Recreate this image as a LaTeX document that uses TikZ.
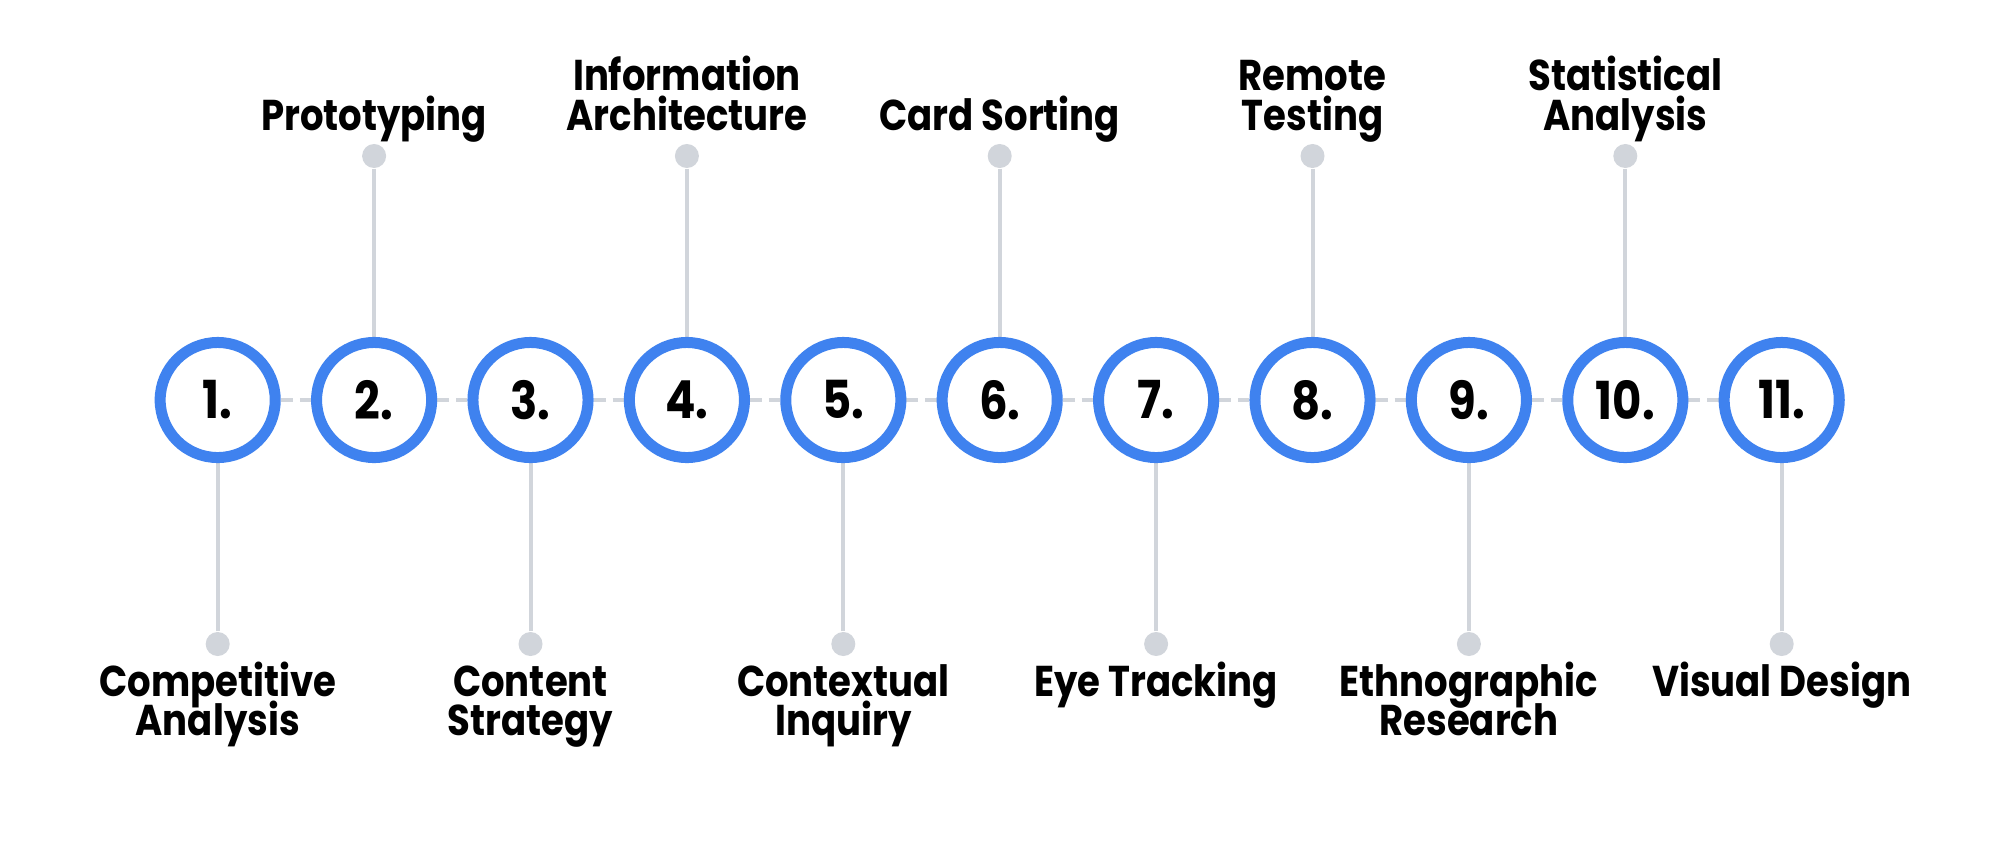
\documentclass[tikz,border=0pt]{standalone}
\usepackage{fontspec}
\newfontfamily\labfont{Poppins}[FakeStretch=0.86]
\definecolor{ringblue}{HTML}{3F82EF}
\definecolor{stemgray}{HTML}{D1D5DB}
\pgfdeclarelayer{bg}
\pgfsetlayers{bg,main}
\newcommand\stacklines[1]{\halign{\hfil##\hfil\cr#1\crcr}}
\newcommand\toplab[1]{\vbox{\lineskiplimit=-100pt\baselineskip=11.24pt\stacklines{#1}}}
\newcommand\botlab[1]{\vtop{\lineskiplimit=-100pt\baselineskip=11.24pt\stacklines{#1}}}
\tikzset{
  ring/.style={circle, draw=ringblue, fill=white, line width=0.11cm, minimum size=1.15cm, inner sep=0pt,
    font=\labfont\bfseries\fontsize{14.9pt}{16pt}\selectfont},
  dotmark/.style={circle, fill=stemgray, minimum size=0.24cm, inner sep=0pt},
  lab/.style={anchor=base, inner sep=0pt, font=\labfont\bfseries\fontsize{12.25pt}{11.24pt}\selectfont},
  stem/.style={draw=stemgray, line width=0.04cm},
  dashline/.style={draw=stemgray, line width=0.04cm, dash pattern=on 0.12cm off 0.07cm}
}
\begin{document}
\begin{tikzpicture}[x=0.01cm, y=-0.01cm]
\useasboundingbox (0,0) rectangle (2000,848);
\foreach \i/\t in {1/{Competitive\cr Analysis}, 2/{Prototyping}, 3/{Content\cr Strategy},
  4/{Information\cr Architecture}, 5/{Contextual\cr Inquiry}, 6/{Card Sorting},
  7/{Eye Tracking}, 8/{Remote\cr Testing}, 9/{Ethnographic\cr Research},
  10/{Statistical\cr Analysis}, 11/{Visual Design}} {
  \pgfmathsetmacro\x{217.7+156.4*(\i-1)}
  \node[ring] (c\i) at (\x,400) {\i.};
  \ifodd\i\relax
    \node[dotmark] (d\i) at (\x,644) {};
    \node[lab] (l\i) at (\x,696) {\botlab{\t}};
  \else
    \node[dotmark] (d\i) at (\x,156) {};
    \node[lab] (l\i) at (\x,130) {\toplab{\t}};
  \fi
}
\begin{pgfonlayer}{bg}
  \fill[white] (0,0) rectangle (2000,848);
  \foreach \i in {1,...,11} { \draw[stem] (d\i) -- (c\i); }
  \foreach \i [evaluate=\i as \j using int(\i+1)] in {1,...,10} { \draw[dashline] (c\i) -- (c\j); }
\end{pgfonlayer}
\end{tikzpicture}
\end{document}
